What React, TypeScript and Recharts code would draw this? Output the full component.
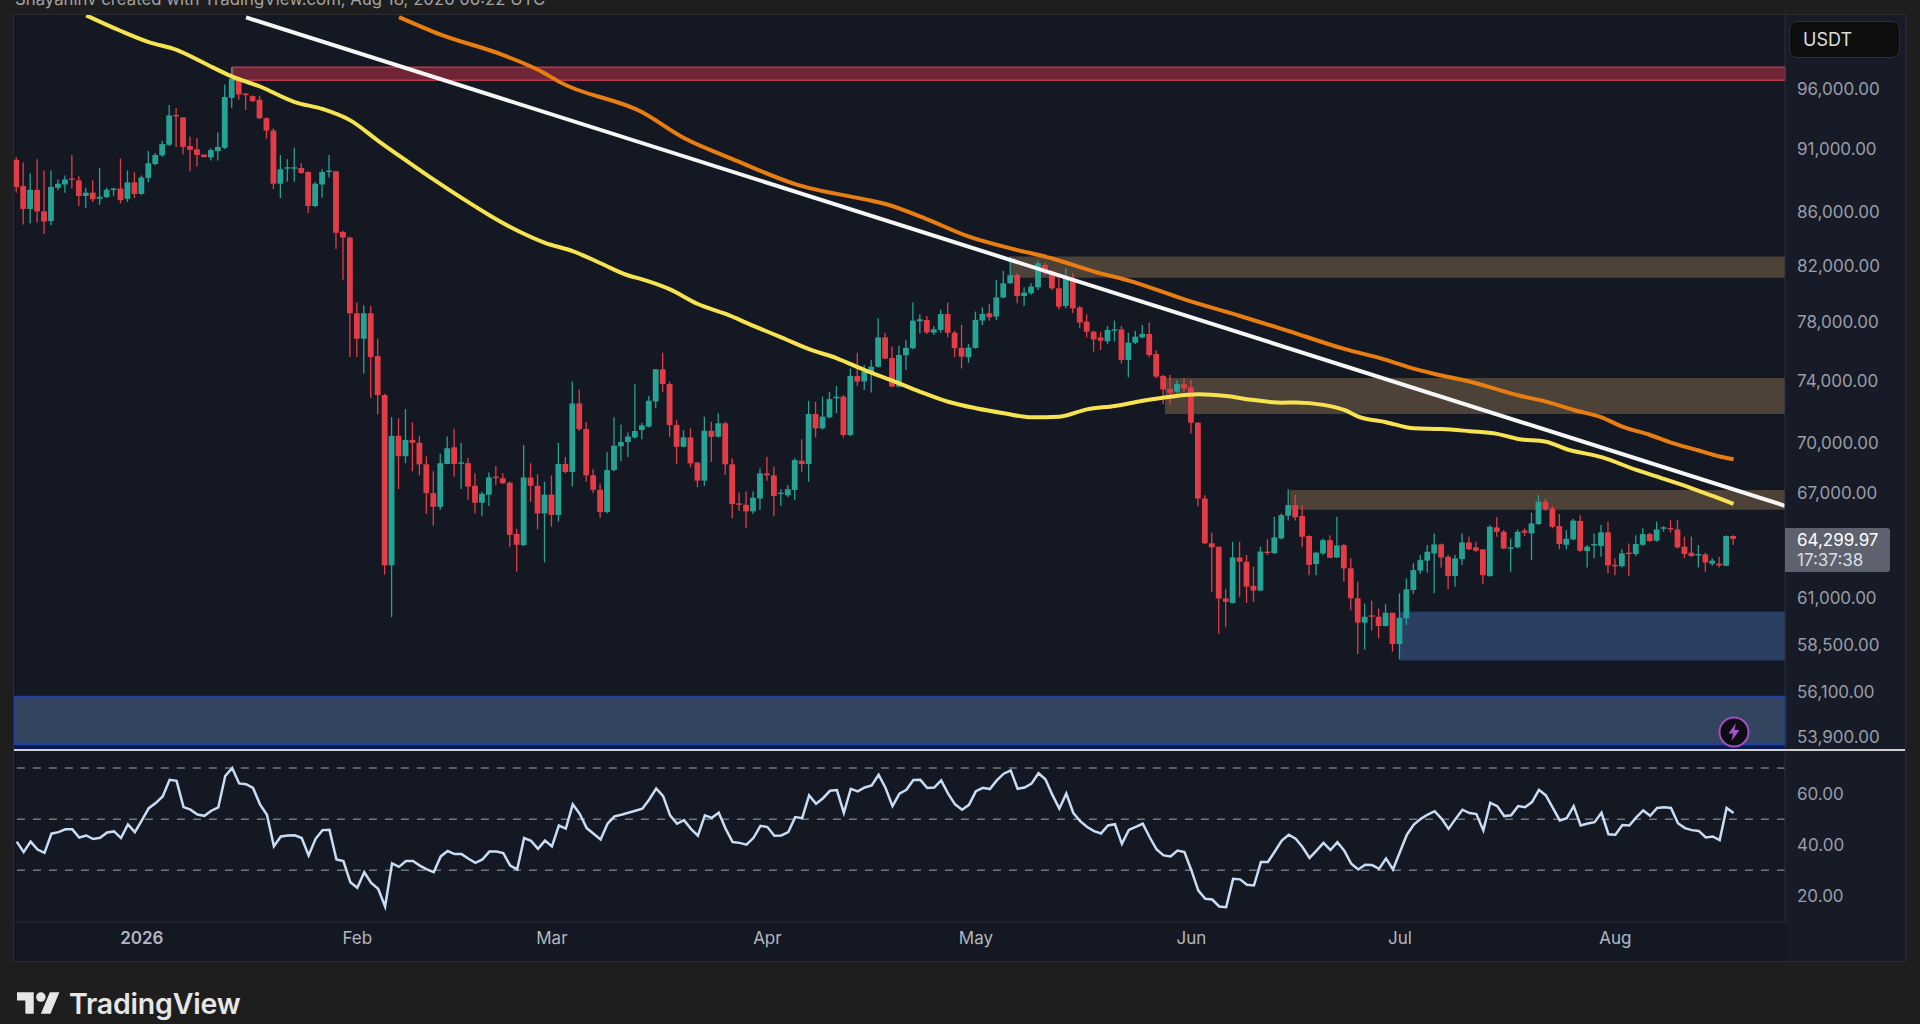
import { Bar, ComposedChart, Line, ReferenceArea, ReferenceLine, XAxis, YAxis } from 'recharts';

// daily candles, day 0 = 14 Dec 2025
const opens = [
  90120,88040,86270,87750,86080,85340,87910,88170,88650,88490,
  87270,87530,87050,87180,87750,87850,87050,88330,87430,88690,
  89790,90490,91340,93800,93600,91240,90970,90550,90320,90840,
  91100,95250,96880,95600,95390,95080,93530,92510,88230,89470,
  89470,89470,89150,86490,88170,89150,89210,84520,84090,78610,
  76850,78610,75660,73090,62800,70480,69210,70220,70040,68710,
  66970,66160,68730,69760,68760,68780,67410,66400,66880,67960,
  67860,67590,64580,63940,67910,67410,65770,66880,65680,68730,
  68240,72540,70910,68040,67170,65850,68360,69830,70090,70380,
  70840,71060,72670,74780,73810,71160,69800,70380,68810,67720,
  70800,70420,71270,68710,66360,66280,65890,66650,68160,68040,
  66920,66840,67160,68930,68730,71860,70950,71650,72870,72980,
  70530,74340,73970,74560,74950,76940,75540,73640,75720,76200,
  78050,78140,77260,77450,78560,77260,76220,75590,76220,78100,
  78610,78380,79730,80740,81340,79830,80020,80450,82060,81580,
  80380,79120,81100,79020,78030,77330,76940,76670,77400,77490,
  75410,76580,76940,77170,75810,74340,73490,73300,73790,73600,
  71310,66650,64040,63850,60970,60730,63240,63000,61660,61400,
  63570,63490,64320,65630,66260,65620,64460,62870,63470,64220,
  63240,63940,62630,60980,59670,60060,59990,59490,60200,58540,
  59900,61430,62500,63060,63470,63980,63280,62200,63150,64090,
  63810,63700,62200,64950,64700,63750,63810,64770,64610,65150,
  66460,66060,65030,63960,64260,65330,63600,63940,63890,64670,
  62820,62750,63510,63430,63960,64570,64190,64880,64920,64840,
  63850,63510,63380,63410,62890,62890,62770,64460,
];
const highs = [
  90350,89920,89050,90180,89270,89270,88560,88880,90520,88820,
  87910,88490,89470,87910,87910,90240,89270,89140,88880,90840,
  90680,91670,94630,94390,93600,92000,91900,90550,91070,92340,
  96390,97870,96980,95670,95460,95420,93600,92680,90520,90180,
  91100,89850,89210,88390,89370,90520,89210,84610,84160,79360,
  79180,79120,76850,73170,71660,71590,72180,71330,70480,69210,
  68290,69360,70430,70890,70040,69100,68160,67050,68210,68610,
  68160,67660,64880,69910,68780,68110,67660,68040,70040,69160,
  73970,73440,71330,68410,67540,69450,71660,71200,70680,73790,
  71310,73020,74780,75900,73960,71480,70840,70950,68870,71690,
  71370,71910,71370,69080,67000,67060,67060,68460,69170,68560,
  67200,67460,69080,70260,72720,72650,72980,73300,73680,73090,
  74840,75900,75070,75410,78260,77260,76310,76360,76760,79360,
  78520,78420,77730,78850,79360,77400,77800,76490,78730,79030,
  79260,80980,81650,82680,81460,80450,80740,82390,82240,81700,
  81100,81820,81460,79120,78520,77400,77330,77730,78100,77730,
  77260,77400,77800,77960,76040,74410,74410,74080,74190,74080,
  71310,66850,64650,63850,61470,64130,64130,63380,62720,63850,
  64270,65570,65770,67200,66860,66260,64510,63560,64320,64510,
  65570,64000,63190,61890,60700,60850,60430,60660,60200,61250,
  62070,62910,63380,63940,64610,64030,63380,63380,64610,64420,
  64130,63700,65100,65540,64800,64320,64840,64900,65810,66860,
  66660,66200,65730,64800,65460,65670,63940,64610,65090,65290,
  63190,63700,64030,64510,64900,64650,65290,65030,65380,65380,
  64420,64420,63940,63510,63190,63280,64510,64500,
];
const lows = [
  87530,85080,85180,85240,84370,85020,87720,87530,87850,86490,
  86330,86800,86580,87110,87270,86700,86800,87110,87340,88330,
  89690,90350,91240,91170,90580,89210,89590,90320,90080,90080,
  91000,94390,95080,94220,94890,93460,91840,87810,87110,88390,
  88390,89020,85960,86390,87140,88720,83250,81000,75600,75600,
  74510,72900,71850,62280,59960,67210,68780,68290,68040,65730,
  65050,65970,68710,67960,67210,66570,65770,65610,66210,67460,
  67510,63840,62450,63890,66450,64840,62960,65000,65300,68160,
  67360,70780,67660,66970,65520,65770,68290,68900,69160,70300,
  70260,71010,72230,73300,70420,68730,69750,68520,67320,67400,
  68870,70380,68060,65480,65930,64900,65730,65970,67720,65610,
  66200,66720,66560,68260,67660,70380,70880,71580,71910,70380,
  70460,73680,73420,73250,74910,75450,73590,73590,74730,76130,
  77210,77170,77100,77260,76940,75590,74840,75220,76170,77790,
  78100,78140,79660,80690,79310,79120,79920,80260,81340,80260,
  78880,78950,78610,77560,76940,75970,76080,76490,76640,75180,
  74250,76490,76870,75590,74190,72490,72490,73210,73300,70630,
  66170,64000,61340,59100,59450,60700,61060,60730,60790,61400,
  63380,63440,64260,65350,65350,63850,62250,62250,63380,63190,
  63210,61890,60340,58030,58260,59250,58840,59460,58150,57750,
  59540,61210,62310,62380,61250,62680,61470,61610,62820,63660,
  63560,61760,62160,64420,63700,62440,63750,64460,63100,65090,
  65920,64900,63700,63700,64220,63560,62680,63190,63280,62350,
  62250,62680,62200,63320,63890,64130,64130,64700,64650,63750,
  63190,63260,62680,62440,62770,62680,62750,63940,
];
const closes = [
  87980,86270,87750,86080,85310,87980,88230,88560,88560,87270,
  87530,87020,87210,87750,87850,86950,88330,87430,88720,89850,
  90520,91400,93760,93700,91170,90940,90520,90350,90910,91170,
  95320,96880,95530,95530,94960,93530,92510,88230,89370,89530,
  89530,89080,86490,88230,89150,89270,84460,84090,78610,76850,
  78610,75600,73090,62800,70480,69210,70220,70040,68710,66970,
  66160,68780,69700,68730,68830,67360,66400,66930,67910,67910,
  67560,64530,63960,67910,67410,65770,66880,65680,68730,68240,
  72540,70910,68040,67170,65850,68360,69860,70090,70430,70780,
  71140,72720,74780,73810,71160,69800,70380,68770,67720,70800,
  70420,71270,68710,66320,66280,65890,66700,68160,68040,66800,
  67000,67200,68970,68730,71860,70950,71690,72820,72980,70530,
  74340,73970,74620,74950,76940,75500,73640,75740,76220,78100,
  78190,77280,77490,78560,77260,76200,75630,76240,78150,78560,
  78330,79730,80740,81320,79830,80070,80500,82190,81510,80380,
  79070,81100,78950,77960,77330,76800,76710,77450,77490,75410,
  76580,76990,77170,75740,74300,73450,73230,73810,73530,71310,
  66650,64040,63810,60970,60790,63240,63000,61620,61400,63570,
  63530,64380,65670,66260,65540,64420,62820,63510,64220,63220,
  63920,62630,60980,59670,59990,59990,59490,60200,58540,59930,
  61470,62530,63090,63560,63980,63240,62200,63190,64090,63700,
  63620,62250,64990,64700,63750,63810,64700,64650,65190,66460,
  66000,64990,64000,64300,65350,63620,63850,64000,64670,62790,
  62790,63470,63450,64000,64570,64170,64840,64960,64880,63810,
  63430,63320,63430,62960,63060,62790,64460,64300,
];

const rsiValues = [
  41.2,37.1,41.2,38.1,36.8,44.3,44.9,46.0,46.0,42.8,
  43.6,42.2,42.7,44.8,45.2,42.6,47.9,44.9,49.5,54.3,
  56.3,58.9,65.4,65.0,54.7,53.7,51.8,51.3,53.3,54.6,
  66.9,70.0,64.0,63.7,62.2,55.8,51.7,39.4,43.2,43.6,
  43.7,42.6,35.8,42.3,45.7,45.8,34.2,33.6,25.3,23.1,
  29.2,25.0,22.7,15.8,32.7,31.3,33.6,33.6,31.8,30.3,
  29.2,35.4,37.5,36.3,36.3,34.5,32.9,34.2,37.3,37.3,
  36.7,31.8,30.3,42.6,41.5,38.4,41.6,39.3,47.5,46.3,
  55.8,52.1,46.5,44.3,42.0,48.2,51.1,51.7,52.5,53.3,
  54.1,57.7,62.0,59.0,51.5,48.2,49.6,46.2,43.5,51.5,
  50.5,52.5,46.2,41.0,40.7,40.0,42.7,47.4,46.9,43.5,
  43.6,44.9,50.8,50.4,59.3,56.0,58.2,61.1,61.4,52.5,
  61.9,60.9,62.4,63.2,67.4,62.2,55.1,60.0,61.5,65.3,
  65.4,62.2,62.4,65.2,60.0,55.8,53.7,55.6,61.0,62.3,
  61.8,65.2,67.8,69.1,61.9,62.4,63.9,68.0,65.6,59.5,
  54.1,60.0,52.5,49.2,46.9,45.3,44.4,47.5,48.0,40.3,
  45.8,47.0,48.2,42.9,38.1,35.8,35.4,37.7,37.1,29.9,
  22.0,18.8,18.5,15.8,15.5,26.6,26.4,24.3,24.0,33.2,
  33.2,37.3,41.6,43.9,42.3,39.0,34.8,37.7,40.7,37.9,
  41.0,37.6,32.5,30.3,32.1,32.0,30.5,34.6,30.3,37.1,
  43.9,47.9,50.1,51.8,53.1,50.1,46.2,50.1,53.7,52.4,
  52.0,45.6,56.4,55.1,51.2,51.5,55.1,54.7,56.7,61.5,
  59.3,54.4,49.5,50.4,55.1,47.5,48.3,48.8,52.5,44.1,
  43.9,47.7,47.5,50.7,53.4,51.3,54.4,54.7,54.4,48.4,
  46.5,45.7,45.4,42.8,43.2,41.8,54.4,52.4,
];

// moving averages, read at the days where they bend
const shortMaDays = [10,15,19,23,27,31,35,40,44,48,52,56,60,64,68,72,76,80,84,88,90,94,98,102,106,110,114,118,122,126,130,134,138,142,146,150,154,158,162,166,170,174,178,182,184,188,191,193,197,201,205,209,213,216,220,223,228,233,237,241,244,247];
const shortMaValues = [102510,101090,100100,99410,98230,97060,96210,94890,94300,93350,91670,90080,88550,87120,85790,84620,83700,83090,82190,81300,81020,80300,79260,78560,77730,76940,76130,75520,74730,74030,73300,72650,72230,71910,71650,71690,72160,72380,72720,72980,73130,73020,72760,72590,72610,72450,72120,71700,71340,70950,70910,70770,70600,70280,70110,69640,69150,68370,67820,67260,66800,66330];
const longMaDays = [55,61,70,76,78,90,96,103,112,123,125,131,137,143,149,155,160,168,176,182,191,197,200,204,209,213,216,220,224,228,231,235,238,242,245,247];
const longMaValues = [102350,100760,98940,97340,96630,94030,91900,90190,88200,86900,86650,85470,84160,83290,82540,81580,80930,79590,78420,77530,76150,75410,74960,74470,73970,73460,73070,72660,72120,71650,71060,70530,70050,69560,69190,69020];
const trendDays = [33, 254.4];
const trendValues = [102320, 66220];

const axisPriceTicks = [53900,56100,58500,61000,67000,70000,74000,78000,82000,86000,91000,96000];
const rsiTicks = [20, 40, 60];
const rsiLevels = [70, 50, 30];
const monthDays = [18, 49, 77, 108, 138, 169, 199, 230];
const monthLabels = ['2026', 'Feb', 'Mar', 'Apr', 'May', 'Jun', 'Jul', 'Aug'];

const RED = '#e23d47';
const GREEN = '#25a293';
const X_START = -0.39;
const X_END = 254.4;
const X_DOMAIN: [number, number] = [X_START, X_END];
const PRICE_DOMAIN: [number, number] = [53270, 102540];
const CHART_WIDTH = 1891;

const candleData = opens.map((open, i) => ({
  day: i,
  open,
  high: highs[i],
  low: lows[i],
  close: closes[i],
  range: [lows[i], highs[i]],
  rsi: rsiValues[i],
}));
const shortMaData = shortMaDays.map((day, i) => ({ day, ma: shortMaValues[i] }));
const longMaData = longMaDays.map((day, i) => ({ day, ma: longMaValues[i] }));
const trendData = trendDays.map((day, i) => ({ day, ma: trendValues[i] }));

// body position comes from the wick's pixels, the axis is logarithmic
function Candle(props: any) {
  const { x, y, width, height, payload } = props;
  const { open, high, low, close } = payload;
  const color = close >= open ? GREEN : RED;
  const span = Math.log(high) - Math.log(low) || 1;
  const at = (v: number) => y + (height * (Math.log(high) - Math.log(v))) / span;
  const top = at(Math.max(open, close));
  const bottom = at(Math.min(open, close));
  const cx = x + width / 2;
  return (
    <g>
      <line x1={cx} x2={cx} y1={y} y2={y + height} stroke={color} strokeWidth={1.3} />
      <rect x={cx - 2.9} y={top} width={5.8} height={Math.max(bottom - top, 1.4)} fill={color} />
    </g>
  );
}

function MonthTick(props: any) {
  const { x, y, payload } = props;
  const label = monthLabels[monthDays.indexOf(payload.value)];
  return (
    <text x={x} y={y + 20} textAnchor="middle" fill="#b4b7bf" fontSize={17} fontWeight={label === '2026' ? 600 : 400} fontFamily="Inter">
      {label}
    </text>
  );
}

export default function App() {
  return (
    <div style={{ position: 'absolute', left: 0, top: 0, width: 1920, height: 1024, background: '#1e1e1e', overflow: 'hidden', fontFamily: 'Inter' }}>
      <div style={{ position: 'absolute', left: 15, top: -12, fontSize: 16.75, lineHeight: '22px', color: '#a3a3a3', whiteSpace: 'nowrap' }}>
        Shayaninv created with TradingView.com, Aug 18, 2026 06:22 UTC
      </div>

      <div style={{ position: 'absolute', left: 14, top: 15, width: 1891, height: 946, background: '#131823', boxShadow: '0 0 0 1px #2b2d33' }} />
      <div style={{ position: 'absolute', left: 1785, top: 15, width: 120, height: 946, background: '#161b27' }} />

      <div style={{ position: 'absolute', left: 14, top: 15 }}>
        <ComposedChart width={CHART_WIDTH} height={735} data={candleData} margin={{ top: 0, right: 0, bottom: 0, left: 0 }}>
          <XAxis dataKey="day" type="number" domain={X_DOMAIN} allowDataOverflow hide />
          <YAxis
            orientation="right"
            width={120}
            type="number"
            scale="log"
            domain={PRICE_DOMAIN}
            allowDataOverflow
            ticks={axisPriceTicks}
            interval={0}
            tickSize={0}
            tickMargin={12}
            tick={{ fill: '#9a9da6', fontSize: 17, fontFamily: 'Inter' }}
            tickFormatter={(v: number) => v.toLocaleString('en-US', { minimumFractionDigits: 2 })}
            axisLine={{ stroke: '#2a2e39' }}
          />
          <ReferenceArea x1={31.06} x2={X_END} y1={96740} y2={97870} fill="#702537" fillOpacity={1} stroke="#b8384e" strokeWidth={1.5} />
          <ReferenceArea x1={143} x2={X_END} y1={81130} y2={82680} fill="#4d4238" fillOpacity={1} />
          <ReferenceArea x1={165.2} x2={X_END} y1={71860} y2={74200} fill="#4d4238" fillOpacity={1} />
          <ReferenceArea x1={183.2} x2={X_END} y1={65980} y2={67160} fill="#4d4238" fillOpacity={1} />
          <ReferenceArea x1={199} x2={X_END} y1={57715} y2={60230} fill="#2a3f62" fillOpacity={1} stroke="#233d70" />
          <ReferenceArea x1={X_START} x2={X_END} y1={53270} y2={53550} fill="#0b1a4c" fillOpacity={1} />
          <ReferenceArea x1={X_START} x2={X_END} y1={53550} y2={55850} fill="#33445e" fillOpacity={1} stroke="#21429a" strokeWidth={2.5} />
          <Bar dataKey="range" barSize={6} shape={<Candle />} isAnimationActive={false} />
          <Line data={shortMaData} dataKey="ma" type="monotone" stroke="#f6e34f" strokeWidth={4} dot={false} isAnimationActive={false} />
          <Line data={longMaData} dataKey="ma" type="monotone" stroke="#e87e12" strokeWidth={4} dot={false} isAnimationActive={false} />
          <Line data={trendData} dataKey="ma" type="linear" stroke="#f6f6f6" strokeWidth={4} dot={false} isAnimationActive={false} />
        </ComposedChart>
      </div>

      <div style={{ position: 'absolute', left: 14, top: 751 }}>
        <ComposedChart width={CHART_WIDTH} height={210} data={candleData} margin={{ top: 0, right: 0, bottom: 0, left: 0 }}>
          <XAxis
            dataKey="day"
            type="number"
            domain={X_DOMAIN}
            allowDataOverflow
            ticks={monthDays}
            interval={0}
            height={39}
            tickSize={0}
            tick={<MonthTick />}
            axisLine={{ stroke: '#2a2e39' }}
          />
          <YAxis
            orientation="right"
            width={120}
            type="number"
            domain={[9.7, 76.7]}
            allowDataOverflow
            ticks={rsiTicks}
            interval={0}
            tickSize={0}
            tickMargin={12}
            tick={{ fill: '#9a9da6', fontSize: 17, fontFamily: 'Inter' }}
            tickFormatter={(v: number) => v.toFixed(2)}
            axisLine={{ stroke: '#2a2e39' }}
          />
          {rsiLevels.map((level) => (
            <ReferenceLine key={level} y={level} stroke="#72757b" strokeWidth={1.5} strokeDasharray="8 8" />
          ))}
          <Line dataKey="rsi" type="linear" stroke="#c8dcf3" strokeWidth={2.5} dot={false} isAnimationActive={false} />
        </ComposedChart>
      </div>

      {/* pane divider */}
      <div style={{ position: 'absolute', left: 14, top: 749, width: 1891, height: 2, background: '#cfcfcf' }} />

      <div style={{ position: 'absolute', left: 1789, top: 21, width: 111, height: 37, boxSizing: 'border-box', background: '#0e0e0f', border: '1px solid #2a2e39', borderRadius: 8, color: '#dedede', fontSize: 18, lineHeight: '35px', paddingLeft: 13 }}>
        USDT
      </div>

      <div style={{ position: 'absolute', left: 1785, top: 528, width: 105, height: 44, background: '#5e626e', borderRadius: '0 3px 3px 0', textAlign: 'left', paddingLeft: 12, boxSizing: 'border-box', fontSize: 17, lineHeight: '20px', paddingTop: 2 }}>
        <div style={{ color: '#ffffff' }}>64,299.97</div>
        <div style={{ color: '#dcdde0' }}>17:37:38</div>
      </div>

      <svg style={{ position: 'absolute', left: 1718, top: 716 }} width={32} height={32} viewBox="0 0 32 32">
        <circle cx={16} cy={16} r={14.5} fill="#0c0c12" stroke="#a04fbe" strokeWidth={2} />
        <path d="M18 7 L10.5 17.5 H15 L13.5 25 L21.5 14 H16.5 Z" fill="#a750d2" />
      </svg>

      <svg style={{ position: 'absolute', left: 17, top: 992 }} width={43} height={22} viewBox="0 4 36 18">
        <path d="M14 22H7V11H0V4h14v18zM28 22h-8l7.5-18h8L28 22z" fill="#e6e6e6" />
        <circle cx={20} cy={8} r={4} fill="#e6e6e6" />
      </svg>
      <div style={{ position: 'absolute', left: 69, top: 986, fontSize: 28.5, fontWeight: 600, lineHeight: '36px', color: '#e6e6e6', letterSpacing: -0.2 }}>
        TradingView
      </div>
    </div>
  );
}
